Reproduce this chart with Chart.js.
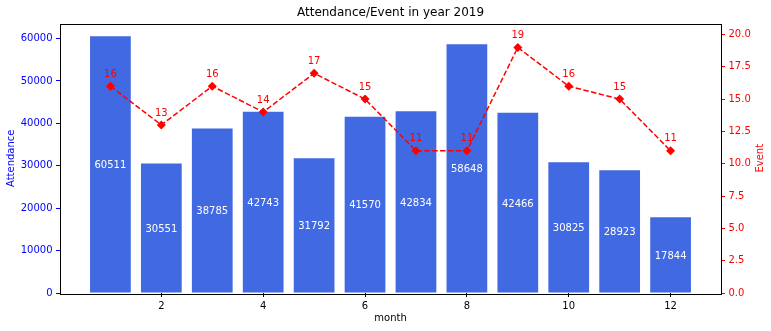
<!DOCTYPE html>
<html>
<head>
<meta charset="utf-8">
<script src="https://cdn.jsdelivr.net/npm/chart.js@4"></script>
<style>
  body { margin: 0; background: #fff; }
  #wrap { width: 771px; height: 331px; }
</style>
</head>
<body>
<div id="wrap"><canvas id="chart" width="771" height="331"></canvas></div>
<script>
const months = [1, 2, 3, 4, 5, 6, 7, 8, 9, 10, 11, 12];
const attendance = [60511, 30551, 38785, 42743, 31792, 41570, 42834, 58648, 42466, 30825, 28923, 17844];
const events = [16, 13, 16, 14, 17, 15, 11, 11, 19, 16, 15, 11];
const monthTicks = [2, 4, 6, 8, 10, 12];
const attendanceTicks = [0, 10000, 20000, 30000, 40000, 50000, 60000];
const eventTicks = [0, 2.5, 5, 7.5, 10, 12.5, 15, 17.5, 20];

const FONT = "'DejaVu Sans', sans-serif";

// value labels: white inside the bars, red above the event markers
const valueLabels = {
    id: 'valueLabels',
    afterDatasetsDraw(chart) {
        const ctx = chart.ctx;
        const y = chart.scales.y;
        const a = chart.chartArea;
        ctx.save();
        ctx.font = '10px ' + FONT;
        ctx.textAlign = 'center';
        ctx.textBaseline = 'middle';
        chart.getDatasetMeta(0).data.forEach((bar, i) => {
            ctx.fillStyle = '#ffffff';
            ctx.fillText(String(attendance[i]), bar.x, y.getPixelForValue(attendance[i] / 2) + 1);
        });
        chart.getDatasetMeta(1).data.forEach((pt, i) => {
            ctx.fillStyle = 'red';
            ctx.fillText(String(events[i]), pt.x, pt.y - 12);
        });
        // frame round the plot
        ctx.strokeStyle = '#000';
        ctx.lineWidth = 1;
        ctx.strokeRect(Math.round(a.left) + 0.5, Math.round(a.top) + 0.5,
            Math.round(a.right - a.left), Math.round(a.bottom - a.top));
        // right axis title, reading bottom to top like the left one
        ctx.translate(chart.scales.y1.right - 11, (a.top + a.bottom) / 2);
        ctx.rotate(-Math.PI / 2);
        ctx.fillStyle = 'red';
        ctx.fillText('Event', 0, 0);
        ctx.restore();
    }
};

const setTicks = list => scale => { scale.ticks = list.map(v => ({ value: v })); };

new Chart(document.getElementById('chart').getContext('2d'), {
    data: {
        datasets: [{
            type: 'bar',
            label: 'Attendance',
            data: months.map((m, i) => ({ x: m, y: attendance[i] })),
            backgroundColor: '#4169e1',
            borderWidth: 0,
            inflateAmount: 0,
            barPercentage: 0.8,
            categoryPercentage: 1.0,
            yAxisID: 'y',
            order: 2
        }, {
            type: 'line',
            label: 'Event',
            data: months.map((m, i) => ({ x: m, y: events[i] })),
            borderColor: 'red',
            backgroundColor: 'red',
            borderWidth: 1.5,
            borderDash: [5.5, 2.4],
            pointStyle: 'rectRot',
            pointRadius: 4.5,
            pointBorderWidth: 0,
            tension: 0,
            yAxisID: 'y1',
            order: 1
        }]
    },
    options: {
        responsive: false,
        animation: false,
        layout: { padding: 0 },
        plugins: {
            legend: { display: false },
            tooltip: { enabled: false },
            title: {
                display: true,
                fullSize: false,
                text: 'Attendance/Event in year 2019',
                color: '#000',
                font: { family: FONT, size: 12, weight: 'normal', lineHeight: 1.2 },
                padding: { top: 6, bottom: 3.1 }
            }
        },
        scales: {
            x: {
                type: 'linear',
                offset: false,
                min: 0.01,
                max: 12.99,
                afterBuildTicks: setTicks(monthTicks),
                afterFit: s => { s.height = 38; },
                grid: { drawOnChartArea: false, offset: false, tickLength: 4, color: '#000' },
                border: { display: false },
                ticks: { color: '#000', padding: 3, font: { family: FONT, size: 10 } },
                title: {
                    display: true, text: 'month', color: '#000',
                    font: { family: FONT, size: 10, lineHeight: 1.2 },
                    padding: { top: 0, bottom: 7 }
                }
            },
            y: {
                position: 'left',
                min: 0,
                max: 63536,
                afterBuildTicks: setTicks(attendanceTicks),
                afterFit: s => { s.width = 60; },
                grid: { drawOnChartArea: false, tickLength: 4, color: 'blue' },
                border: { display: false },
                ticks: {
                    color: 'blue', padding: 3.5, font: { family: FONT, size: 10 },
                    callback: v => String(v)
                },
                title: {
                    display: true, text: 'Attendance', color: 'blue',
                    font: { family: FONT, size: 10, lineHeight: 1.2 },
                    padding: { top: 5, bottom: 0 }
                }
            },
            y1: {
                position: 'right',
                min: 0,
                max: 20.85,
                afterBuildTicks: setTicks(eventTicks),
                afterFit: s => { s.width = 50; },
                grid: { drawOnChartArea: false, tickLength: 4, color: 'red' },
                border: { display: false },
                ticks: {
                    color: 'red', padding: 3.5, font: { family: FONT, size: 10 },
                    callback: v => Number(v).toFixed(1)
                },
                title: { display: false }
            }
        }
    },
    plugins: [valueLabels]
});
</script>
</body>
</html>
